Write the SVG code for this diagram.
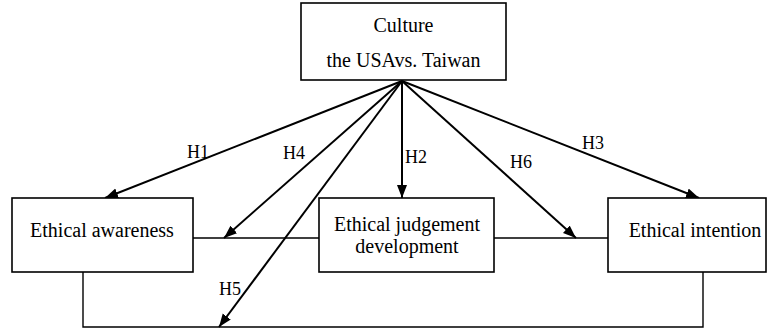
<svg xmlns="http://www.w3.org/2000/svg" width="769" height="329" viewBox="0 0 769 329">
<style>
.box{fill:#fff;stroke:#000;stroke-width:1.6}
.t{font-family:"Liberation Serif","Times New Roman",serif;font-size:20px;fill:#000;text-anchor:middle}
.lb{font-family:"Liberation Serif","Times New Roman",serif;font-size:18px;fill:#000}
.ar{stroke:#000;stroke-width:2;fill:none}
.ln{stroke:#000;stroke-width:1.4;fill:none}
</style>
<defs>
<marker id="ah" markerUnits="userSpaceOnUse" markerWidth="14" markerHeight="12" refX="13" refY="5" orient="auto">
<path d="M0,0 L13,5 L0,10 Z" fill="#000"/>
</marker>
</defs>
<g id="connectors">
<path class="ln" d="M193,238 H319 M494,238 H608 M83,272 V327 H703 V272"/>
<line class="ar" x1="402" y1="81" x2="105" y2="198" marker-end="url(#ah)"/>
<line class="ar" x1="402" y1="81" x2="224" y2="238" marker-end="url(#ah)"/>
<line class="ar" x1="402" y1="81" x2="402" y2="198" marker-end="url(#ah)"/>
<line class="ar" x1="402" y1="81" x2="219" y2="327" marker-end="url(#ah)"/>
<line class="ar" x1="402" y1="81" x2="576" y2="238" marker-end="url(#ah)"/>
<line class="ar" x1="402" y1="81" x2="699" y2="198" marker-end="url(#ah)"/>
<text class="lb" x="187" y="158">H1</text>
<text class="lb" x="283" y="159">H4</text>
<text class="lb" x="405" y="163">H2</text>
<text class="lb" x="510" y="168">H6</text>
<text class="lb" x="582" y="149">H3</text>
<text class="lb" x="219" y="295">H5</text>
</g>
<g id="culture">
<rect class="box" x="301" y="3" width="205" height="77"/>
<text class="t" x="403.5" y="32">Culture</text>
<text class="t" x="403.5" y="67">the USAvs. Taiwan</text>
</g>
<g id="awareness">
<rect class="box" x="12" y="198" width="181" height="74"/>
<text class="t" x="102" y="237">Ethical awareness</text>
</g>
<g id="judgement">
<rect class="box" x="319" y="198" width="175" height="74"/>
<text class="t" x="407" y="231">Ethical judgement</text>
<text class="t" x="407" y="253">development</text>
</g>
<g id="intention">
<rect class="box" x="608" y="198" width="158" height="74"/>
<text class="t" x="695" y="237">Ethical intention</text>
</g>
</svg>
